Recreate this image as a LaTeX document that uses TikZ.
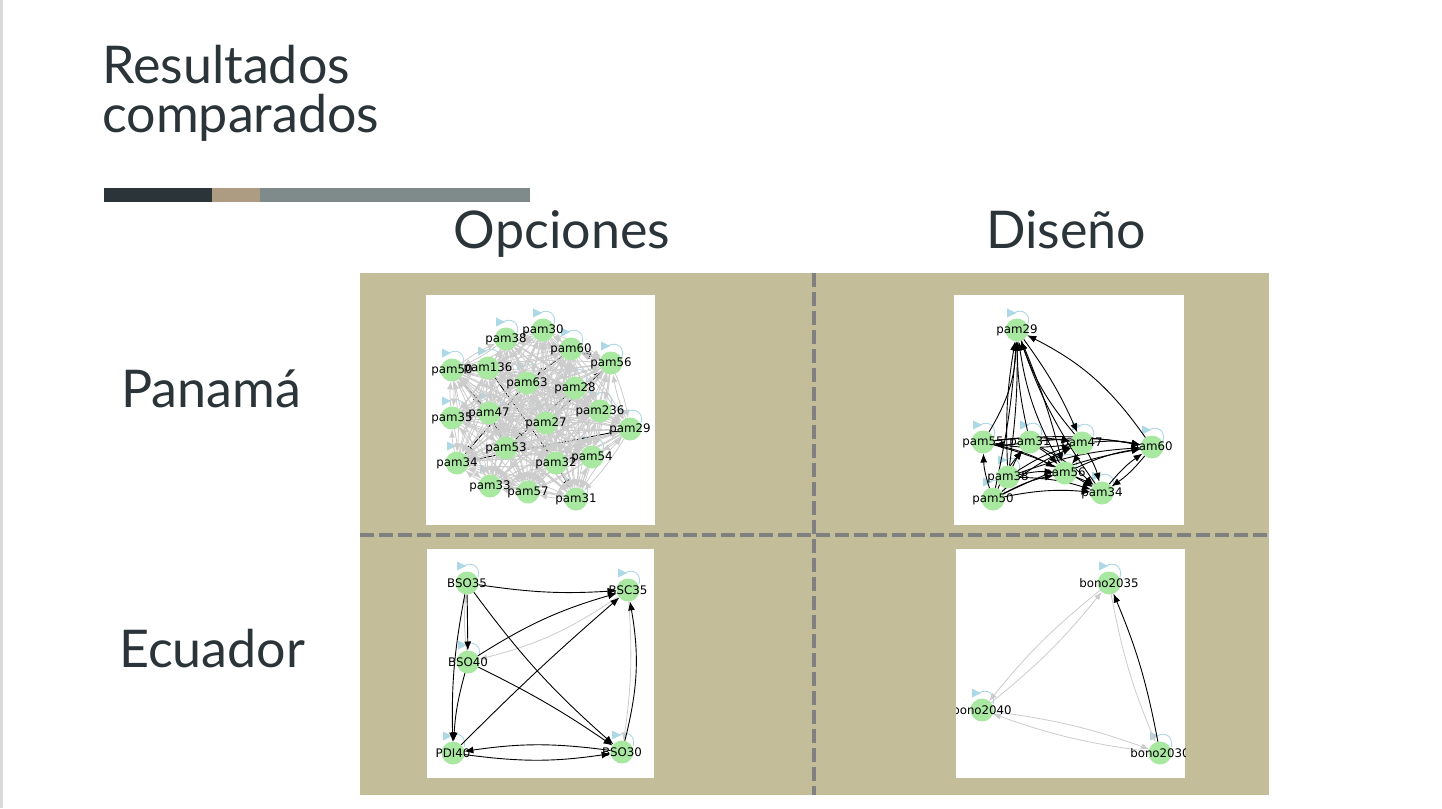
\documentclass[tikz,border=0pt]{standalone}
\usepackage{fontspec}
\setmainfont{Lato}
\newfontfamily\lblfont{DejaVu Sans}
\usetikzlibrary{arrows.meta}
\definecolor{ink}{HTML}{2A3439}
\definecolor{tanbg}{HTML}{C3BD9A}
\definecolor{dashc}{HTML}{808080}
\definecolor{nodec}{HTML}{A8E8A0}
\definecolor{loopc}{HTML}{ADD8E6}
\definecolor{gedge}{HTML}{CCCCCC}
\definecolor{barA}{HTML}{2A3439}
\definecolor{barB}{HTML}{AD9C82}
\definecolor{barC}{HTML}{7F8A8A}
\definecolor{sideline}{HTML}{DADADA}
\newcommand\sloop[1]{\begin{scope}[shift={(#1.center)}]
  \draw[loopc,line width=0.9pt] (-3,-17) .. controls (5,-22) and (14,-16) .. (11,-6);
  \fill[loopc] (-10,-21.5) -- (-10,-12.5) -- (-1,-17) -- cycle;
\end{scope}}
\begin{document}
\begin{tikzpicture}[x=1pt,y=-1pt,
  hfont/.style={font=\fontsize{52}{52}\selectfont, text=ink, inner sep=0pt},
  gnode/.style={circle, minimum size=23pt, inner sep=0pt, outer sep=0pt},
  lbl/.style={font=\lblfont\fontsize{11.8}{12}\selectfont, text=black, inner sep=0pt},
  blk/.style={black, line width=0.9pt, -{Latex[length=9pt,width=7pt]}},
  gry/.style={gedge, line width=0.8pt, -{Latex[length=8pt,width=6pt]}},
  dashln/.style={dashc, line width=4pt, dash pattern=on 14pt off 5pt},
  panel/.style={fill=white, draw=none}
]
\useasboundingbox (0,0) rectangle (1442,808);
\fill[white] (0,0) rectangle (1442,808);
\fill[sideline] (0,0) rectangle (2.5,808);

% title
\node[hfont, anchor=base west] (title1) at (102,84) {Resultados};
\node[hfont, anchor=base west] (title2) at (102,132) {comparados};
\fill[barA] (104,188) rectangle (212,202);
\fill[barB] (212,188) rectangle (260,202);
\fill[barC] (260,188) rectangle (530,202);

% headings
\node[hfont, anchor=base] (hOp) at (562,248) {Opciones};
\node[hfont, anchor=base] (hDi) at (1066,248) {Diseño};
\node[hfont, anchor=base west] (hPa) at (121,407) {Panamá};
\node[hfont, anchor=base west] (hEc) at (119,667) {Ecuador};

% grid
\fill[tanbg] (360,273) rectangle (1269,795);
\draw[dashln] (814,273) -- (814,795);
\draw[dashln] (360,535) -- (1269,535);

% ===== Panel TL: Opciones / Panama
\fill[panel] (426,295) rectangle (655,525);
\begin{scope}
\clip (426,295) rectangle (655,525);
\foreach \n/\x/\y in {a1/543/330,a2/506/339,a3/571/349,a4/611/363,a5/452/370,
  a6/488/368,a7/527/383,a8/575/388,a9/489/413,a10/452/418,a11/600/411,a12/546/423,
  a13/630/429,a14/506/448,a15/457/463,a16/556/463,a17/592/457,a18/490/486,
  a19/528/492,a20/576/499}
  {\path (\x,\y) node[gnode] (\n) {};}
\foreach \n in {1,...,20} {\sloop{a\n}}
\foreach \s/\t in {a5/a9,a4/a3,a3/a7,a7/a15,a9/a14,a15/a13,a8/a14,a16/a20,a6/a16,a12/a4}
  {\draw[blk] (\s) -- (\t);}
\foreach \i in {1,...,20} {\foreach \j in {1,...,20} {%
  \ifnum\j>\i\relax
    \draw[gry] (a\i) to[bend left=6] (a\j);
    \ifodd\numexpr\i+\j\relax \draw[gry] (a\j) to[bend left=6] (a\i); \fi
  \fi}}
\foreach \n in {1,...,20} {\fill[nodec] (a\n.center) circle (11.5);}
\foreach \n/\t in {a1/pam30,a2/pam38,a3/pam60,a4/pam56,a5/pam50,a6/pam136,a7/pam63,
  a8/pam28,a9/pam47,a10/pam35,a11/pam236,a12/pam27,a13/pam29,a14/pam53,a15/pam34,
  a16/pam32,a17/pam54,a18/pam33,a19/pam57,a20/pam31}
  {\node[lbl] at (\n.center) {\t};}
\end{scope}

% ===== Panel TR: Diseno / Panama
\fill[panel] (954,295) rectangle (1184,525);
\begin{scope}
\clip (954,295) rectangle (1184,525);
\foreach \n/\x/\y in {b1/1017/330,b2/983/442,b3/1030/442,b4/1082/443,b5/1152/447,
  b6/1065/473,b7/1008/477,b8/1102/493,b9/993/499}
  {\path (\x,\y) node[gnode] (\n) {};}
\foreach \n in {1,...,9} {\sloop{b\n}}
\draw[blk] (b2) to[bend right=14] (b1);
\draw[blk] (b3) to[bend left=6] (b1);
\draw[blk] (b4) to[bend left=10] (b1);
\draw[blk] (b1) to[bend left=6] (b4);
\draw[blk] (b5) to[bend right=14] (b1);
\draw[blk] (b6) to[bend left=10] (b1);
\draw[blk] (b1) to[bend left=4] (b6);
\draw[blk] (b7) to[bend left=6] (b1);
\draw[blk] (b7) to[bend right=4] (b1);
\draw[blk] (b8) to[bend left=8] (b1);
\draw[blk] (b9) to[bend right=4] (b1);
\foreach \s/\t in {b3/b2,b4/b2,b2/b4,b2/b8,b2/b6,b3/b5,b3/b4,b4/b5,b7/b5,b9/b5,
  b6/b5,b5/b8,b8/b5,b9/b8,b7/b8,b9/b6,b7/b3,b9/b3,b3/b8,b4/b8,b6/b8,b7/b6,
  b9/b2,b3/b6,b4/b6,b2/b5,b7/b4,b9/b4}
  {\draw[blk] (\s) to[bend left=8] (\t);}
\foreach \n in {1,...,9} {\fill[nodec] (b\n.center) circle (11.5);}
\foreach \n/\t in {b1/pam29,b2/pam55,b3/pam31,b4/pam47,b5/pam60,b6/pam56,b7/pam38,
  b8/pam34,b9/pam50}
  {\node[lbl] at (\n.center) {\t};}
\end{scope}

% ===== Panel BL: Opciones / Ecuador
\fill[panel] (427,549) rectangle (654,778);
\begin{scope}
\clip (427,549) rectangle (654,778);
\foreach \n/\x/\y in {c1/467/583,c2/628/590,c3/468/662,c4/453/753,c5/622/752}
  {\path (\x,\y) node[gnode] (\n) {};}
\foreach \n in {1,...,5} {\sloop{c\n}}
\draw[gry] (c2) to[bend left=10] (c3);
\draw[gry] (c3) to[bend left=6] (c1);
\draw[gry] (c2) to[bend left=6] (c5);
\draw[blk] (c1) to[bend right=6] (c2);
\draw[blk] (c1) -- (c3);
\draw[blk] (c1) to[bend right=6] (c4);
\draw[blk] (c1) to[bend right=6] (c5);
\draw[blk] (c3) to[bend left=8] (c2);
\draw[blk] (c3) to[bend right=6] (c4);
\draw[blk] (c3) to[bend left=4] (c5);
\draw[blk] (c4) to[bend left=2] (c2);
\draw[blk] (c4) to[bend right=8] (c5);
\draw[blk] (c5) to[bend right=8] (c4);
\draw[blk] (c5) to[bend right=12] (c2);
\foreach \n in {1,...,5} {\fill[nodec] (c\n.center) circle (11.5);}
\foreach \n/\t in {c1/BSO35,c2/BSC35,c3/BSO40,c4/PDI40,c5/BSO30}
  {\node[lbl] at (\n.center) {\t};}
\end{scope}

% ===== Panel BR: Diseno / Ecuador
\fill[panel] (956,549) rectangle (1185,778);
\begin{scope}
\clip (956,549) rectangle (1185,778);
\foreach \n/\x/\y in {d1/1109/583,d2/982/710,d3/1160/753}
  {\path (\x,\y) node[gnode] (\n) {};}
\foreach \n in {1,...,3} {\sloop{d\n}}
\draw[gry] (d1) to[bend right=6] (d2);
\draw[gry] (d2) to[bend right=6] (d1);
\draw[gry] (d1) to[bend right=6] (d3);
\draw[gry] (d2) to[bend left=6] (d3);
\draw[gry] (d3) to[bend left=6] (d2);
\draw[blk] (d3) to[bend right=6] (d1);
\foreach \n in {1,...,3} {\fill[nodec] (d\n.center) circle (11.5);}
\foreach \n/\t in {d1/bono2035,d2/bono2040,d3/bono2030}
  {\node[lbl] at (\n.center) {\t};}
\end{scope}
\end{tikzpicture}
\end{document}
